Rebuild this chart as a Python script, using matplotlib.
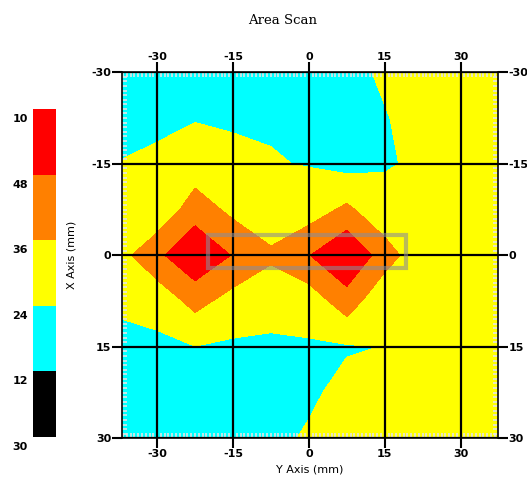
import matplotlib
matplotlib.use("Agg")
import matplotlib.pyplot as plt
import numpy as np
from matplotlib.colors import ListedColormap, BoundaryNorm
from matplotlib.patches import Rectangle
from matplotlib.ticker import MultipleLocator
import matplotlib.transforms as mtrans

plt.rcParams['axes.unicode_minus'] = False

# scan grid (mm)
y_axis_mm = [-37.5, -30, -22.5, -15, -7.5, 0, 7.5, 15, 22.5, 30, 37.5]
x_axis_mm = [-30, -22.5, -15, -7.5, 0, 7.5, 15, 22.5, 30]

# readings, one row per X position
reading = [
    [20, 20, 20, 20, 20, 20, 20, 26, 28, 28, 28],
    [20, 22, 23.5, 23, 23, 20, 20.5, 23.2, 29, 28, 28],
    [24.3, 25.8, 28.7, 26.1, 24.6, 23.5, 20, 23.3, 25.2, 28, 28],
    [28, 26.3, 42.4, 33, 28, 30, 38.5, 27, 28, 28, 28],
    [31.4, 45.3, 58, 47.3, 38, 47.5, 59.5, 41.9, 27.2, 28, 28],
    [27, 27.9, 40, 31.3, 28, 29, 42.6, 26, 28, 28, 28],
    [19, 21.8, 23.8, 22.3, 22.2, 22.8, 23, 24.2, 28, 28, 28],
    [20, 20, 20, 20, 20, 22, 27.4, 28, 28, 28, 28],
    [20, 20, 20, 20, 21, 25.4, 28, 28, 28, 28, 28],
]

levels = [0, 12, 24, 36, 48, 60]
level_labels = ["30", "12", "24", "36", "48", "10"]
level_colors = ["#000000", "#00ffff", "#ffff00", "#ff8000", "#ff0000"]

axis_ticks = [-30, -15, 0, 15, 30]

# region of interest box (Y from, Y to, X from, X to)
roi = (-19.9, 19.2, -3.4, 2.1)


def main():
    fig = plt.figure(figsize=(5.27, 4.79), dpi=100)
    ax = fig.add_axes([0.2309, 0.085, 0.7141, 0.764])
    cax = fig.add_axes([0.0632, 0.0883, 0.0425, 0.684])

    cmap = ListedColormap(level_colors)
    norm = BoundaryNorm(levels, cmap.N)

    X, Y = np.meshgrid(y_axis_mm, x_axis_mm)
    cs = ax.contourf(X, Y, np.array(reading), levels=levels, cmap=cmap, norm=norm)

    ax.set_xlim(-37, 37.4)
    ax.set_ylim(30, -30)

    # grid lines through the major ticks
    ax.set_xticks(axis_ticks)
    ax.set_yticks(axis_ticks)
    ax.grid(True, color="black", linewidth=1.6)
    ax.xaxis.set_minor_locator(MultipleLocator(0.75))
    ax.yaxis.set_minor_locator(MultipleLocator(0.75))
    ax.tick_params(which="major", direction="out", length=7, width=1.5,
                   top=True, right=True, labeltop=True, labelright=True,
                   labelsize=8, pad=0.5)
    ax.tick_params(which="minor", direction="in", length=3.5, width=1.2,
                   color="#e4e4e4", top=True, right=True)
    for lab in ax.get_xticklabels() + ax.get_yticklabels():
        lab.set_fontweight("bold")
    for s in ax.spines.values():
        s.set_linewidth(1.2)

    ax.add_patch(Rectangle((roi[0], roi[2]), roi[1] - roi[0], roi[3] - roi[2],
                           fill=False, edgecolor="#8c8c96", alpha=0.6,
                           linewidth=3, zorder=3))

    ax.set_xlabel("Y Axis (mm)", fontsize=8, labelpad=4)
    ax.set_ylabel("X Axis (mm)", fontsize=8)
    ax.yaxis.set_label_coords(-0.12, 0.5)
    fig.text(0.537, 0.958, "Area Scan", family="DejaVu Serif",
             fontsize=9.5, ha="center", va="center")

    # colour key
    cb = fig.colorbar(cs, cax=cax)
    cb.outline.set_visible(False)
    cb.set_ticks([])
    cax.tick_params(which="both", length=0, labelright=False)
    shift = mtrans.ScaledTranslation(0, -10 / 100, fig.dpi_scale_trans)
    for lv, txt in zip(levels, level_labels):
        cax.text(-0.25, lv, txt, transform=cax.transData + shift,
                 ha="right", va="center", fontsize=8, fontweight="bold")

    fig.savefig("out.png", dpi=100)


main()
